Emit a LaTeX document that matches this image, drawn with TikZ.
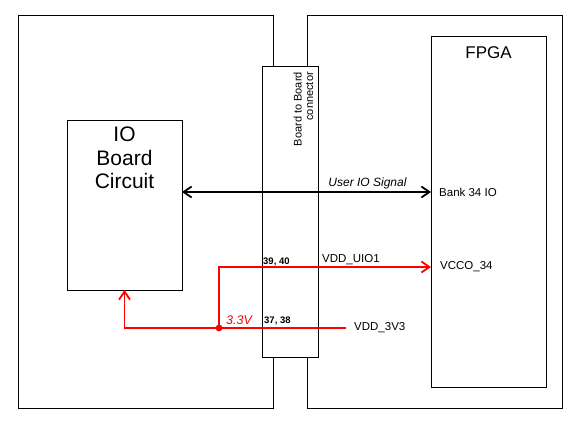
\documentclass[tikz,border=0pt]{standalone}
\usepackage{fontspec}
\setmainfont{Liberation Sans}
\usetikzlibrary{arrows.meta,calc,positioning}
\definecolor{pwrred}{RGB}{255,0,0}
\tikzstyle{board} = [draw, line width=1pt, anchor=north west, inner sep=0,
  outer sep=0pt]
\tikzstyle{conbox} = [board, fill=white]
\tikzstyle{sig} = [line width=1.8pt, black]
\tikzstyle{pwr} = [line width=1.8pt, pwrred]
\tikzstyle{portlabel} = [inner sep=0, font=\fontsize{11.5}{13}\selectfont]
\tikzstyle{pinlabel} = [inner sep=0, font=\fontsize{9.5}{11}\selectfont\bfseries]

\begin{document}
\begin{tikzpicture}[x=1pt, y=-1pt, >={Straight Barb[length=8pt,width=11pt]}]
    \useasboundingbox (0,0) rectangle (580,430);

    % boards
    \node[board, minimum width=255pt, minimum height=392pt] at (18,16) (lboard) {};
    \node[board, minimum width=255pt, minimum height=392pt] at (307,16) (rboard) {};
    \node[conbox, minimum width=56pt, minimum height=290pt] at (262,67) (conn) {};
    \node[rotate=90, anchor=east, align=right, inner sep=0,
    font=\fontsize{11}{11.5}\selectfont] at ($(conn.north)+(13.5,5)$) (conncap)
    {Board to Board\\connector};

    \node[board, minimum width=115pt, minimum height=350pt] at (431,37) (fpga) {};
    \node[below = 9pt of fpga.north, inner sep=0,
    font=\fontsize{17}{19}\selectfont] (fpgacap) {FPGA};

    \node[board, minimum width=115pt, minimum height=169pt] at (67,121) (io) {};
    \node[below = 6pt of io.north, inner sep=0, align=center,
    font=\fontsize{21}{23.5}\selectfont] (iocap) {IO\\Board\\Circuit};

    % user io
    \coordinate (sigL) at (182,192);
    \coordinate (sigR) at (fpga.west |- sigL);
    \draw[sig, <->] (sigL) -- (sigR)
    node[pos=0.745, above=2pt, portlabel, font=\fontsize{12}{13}\selectfont\itshape]
    (sigcap) {User IO Signal};
    \node[portlabel, right = 8pt of sigR] (bank) {Bank 34 IO};

    % power
    \coordinate (tap) at (219,328);
    \coordinate (v3end) at (346,328);
    \coordinate (vcco) at (431,267);
    \draw[pwr, ->] (v3end) -- (tap) -| (io.south);
    \draw[pwr, ->] (tap) |- (vcco);
    \fill[pwrred] (tap) circle (3.4);

    \node[pinlabel, anchor=base west] at ($(conn.west |- vcco)+(1,-3)$) (p3940) {39, 40};
    \node[portlabel, anchor=base west] at ($(conn.east |- vcco)+(4,-5)$) (uio1) {VDD\_UIO1};
    \node[portlabel, right = 9pt of vcco] (vccocap) {VCCO\_34};
    \node[pinlabel, anchor=base west] at ($(conn.west |- tap)+(2,-5)$) (p3738) {37, 38};
    \node[portlabel, pwrred, anchor=base west,
    font=\fontsize{12.5}{14}\selectfont\itshape] at ($(tap)+(7,-4)$) (v33) {3.3V};
    \node[portlabel, right = 8pt of v3end] (v3v3) {VDD\_3V3};

  \end{tikzpicture}
\end{document}
